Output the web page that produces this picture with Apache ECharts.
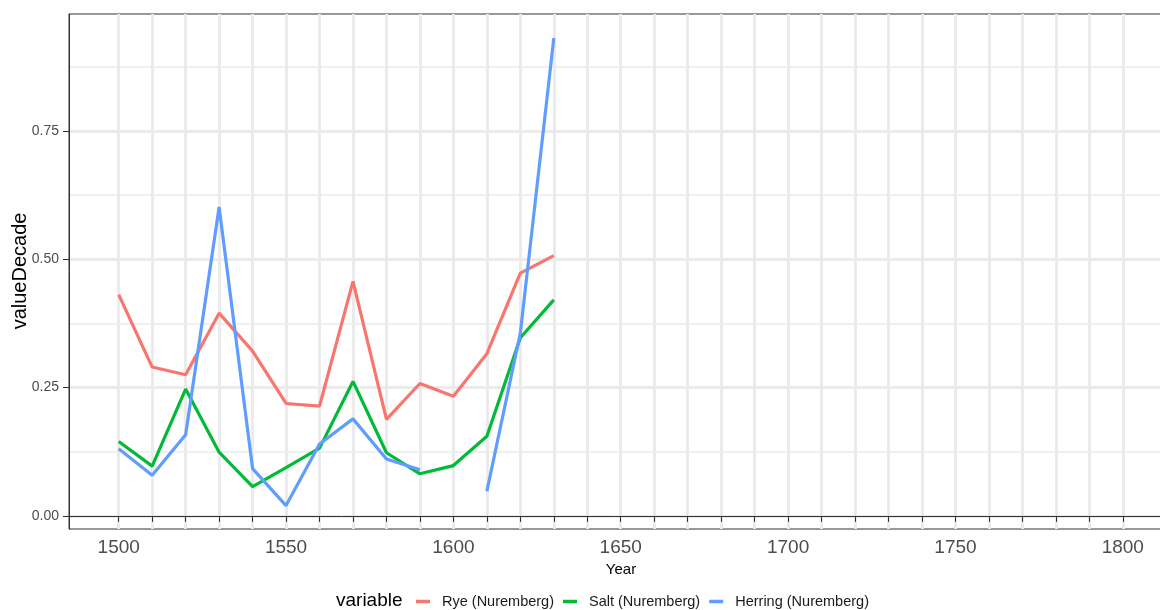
<!DOCTYPE html>
<html>
<head>
<meta charset="utf-8">
<script src="https://cdn.jsdelivr.net/npm/echarts@6/dist/echarts.min.js"></script>
<style>
html,body{margin:0;padding:0;background:#fff;}
#chart{width:1160px;height:610px;}
</style>
</head>
<body>
<div id="chart"></div>
<script>
const years = [1500,1510,1520,1530,1540,1550,1560,1570,1580,1590,1600,1610,1620,1630];
const rye = [0.431,0.290,0.275,0.395,0.321,0.219,0.214,0.457,0.188,0.258,0.233,0.316,0.473,0.507];
const salt = [0.145,0.097,0.247,0.124,0.057,0.094,0.132,0.262,0.123,0.082,0.098,0.155,0.347,0.421];
const herring = [0.131,0.079,0.158,0.602,0.092,0.020,0.140,0.189,0.111,0.090,null,0.048,0.356,0.931];
const seriesNames = ['Rye (Nuremberg)','Salt (Nuremberg)','Herring (Nuremberg)'];
const seriesColors = ['#F8766D','#00BA38','#619CFF'];
const xTickYears = [1500,1510,1520,1530,1540,1550,1560,1570,1580,1590,1600,1610,1620,1630,1640,1650,1660,1670,1680,1690,1700,1710,1720,1730,1740,1750,1760,1770,1780,1790,1800];
const xLabelYears = [1500,1550,1600,1650,1700,1750,1800];
const yTicks = [0,0.25,0.5,0.75];
const yMinorTicks = [0.125,0.375,0.625,0.875];

const FONT = "'Liberation Sans', Arial, sans-serif";
const pair = arr => years.map((y,i) => [y, arr[i]]);
const allSeries = [rye, salt, herring];

const chart = echarts.init(document.getElementById('chart'), null, {renderer:'canvas'});
const yMin = -0.0256, yMax = 0.978;
chart.setOption({
  animation: false,
  backgroundColor: '#ffffff',
  textStyle: {fontFamily: FONT},
  grid: {left: 69, right: -13, top: 14, bottom: 81, show: true, borderColor: '#333333', borderWidth: 1, containLabel: false, outerBoundsMode: 'none'},
  xAxis: {
    type: 'value', min: 1485.15, max: 1815,
    name: 'Year', nameLocation: 'middle', nameGap: 29,
    nameTextStyle: {fontSize: 15, color: '#000', fontFamily: FONT},
    axisLine: {show: true, lineStyle: {color: '#333333', width: 1}},
    axisTick: {show: true, length: 6, customValues: xTickYears, lineStyle: {color: '#333333', width: 1}},
    axisLabel: {show: true, customValues: xLabelYears, fontSize: 19, color: '#4D4D4D', margin: 9, fontFamily: FONT, formatter: v => String(v)},
    splitLine: {show: true, lineStyle: {color: '#EBEBEB', width: 3}}
  },
  yAxis: [{
    type: 'value', min: yMin, max: yMax,
    axisLine: {show: true, lineStyle: {color: '#333333', width: 1}},
    axisTick: {show: true, length: 6, customValues: yTicks, lineStyle: {color: '#333333', width: 1}},
    axisLabel: {show: true, customValues: yTicks, fontSize: 14, color: '#4D4D4D', margin: 10, fontFamily: FONT, formatter: v => v.toFixed(2)},
    splitLine: {show: true, lineStyle: {color: '#EBEBEB', width: 3}}
  },{
    type: 'value', min: yMin, max: yMax, position: 'left',
    axisLine: {show: false},
    axisTick: {show: false, customValues: yMinorTicks},
    axisLabel: {show: false, customValues: yMinorTicks},
    splitLine: {show: true, lineStyle: {color: '#EBEBEB', width: 1.5}}
  }],
  legend: {
    left: 416, top: 594, padding: 0, orient: 'horizontal',
    icon: 'rect', itemWidth: 14, itemHeight: 3.5, itemGap: 9,
    data: seriesNames,
    textStyle: {fontSize: 14.5, color: '#1A1A1A', fontFamily: FONT, padding: [0,0,0,7]}
  },
  graphic: [{
    type: 'text', left: 336, top: 591,
    style: {text: 'variable', fontSize: 19, fill: '#000', fontFamily: FONT}
  },{
    type: 'text', x: 20, y: 271, rotation: Math.PI / 2,
    style: {text: 'valueDecade', fontSize: 20, fill: '#000', fontFamily: FONT, align: 'center', verticalAlign: 'middle'}
  }],
  series: seriesNames.map((n, i) => ({
    name: n, type: 'line', data: pair(allSeries[i]),
    showSymbol: false, symbol: 'none', connectNulls: false,
    lineStyle: {color: seriesColors[i], width: 3.2},
    itemStyle: {color: seriesColors[i]},
    emphasis: {disabled: true}
  }))
});
</script>
</body>
</html>
